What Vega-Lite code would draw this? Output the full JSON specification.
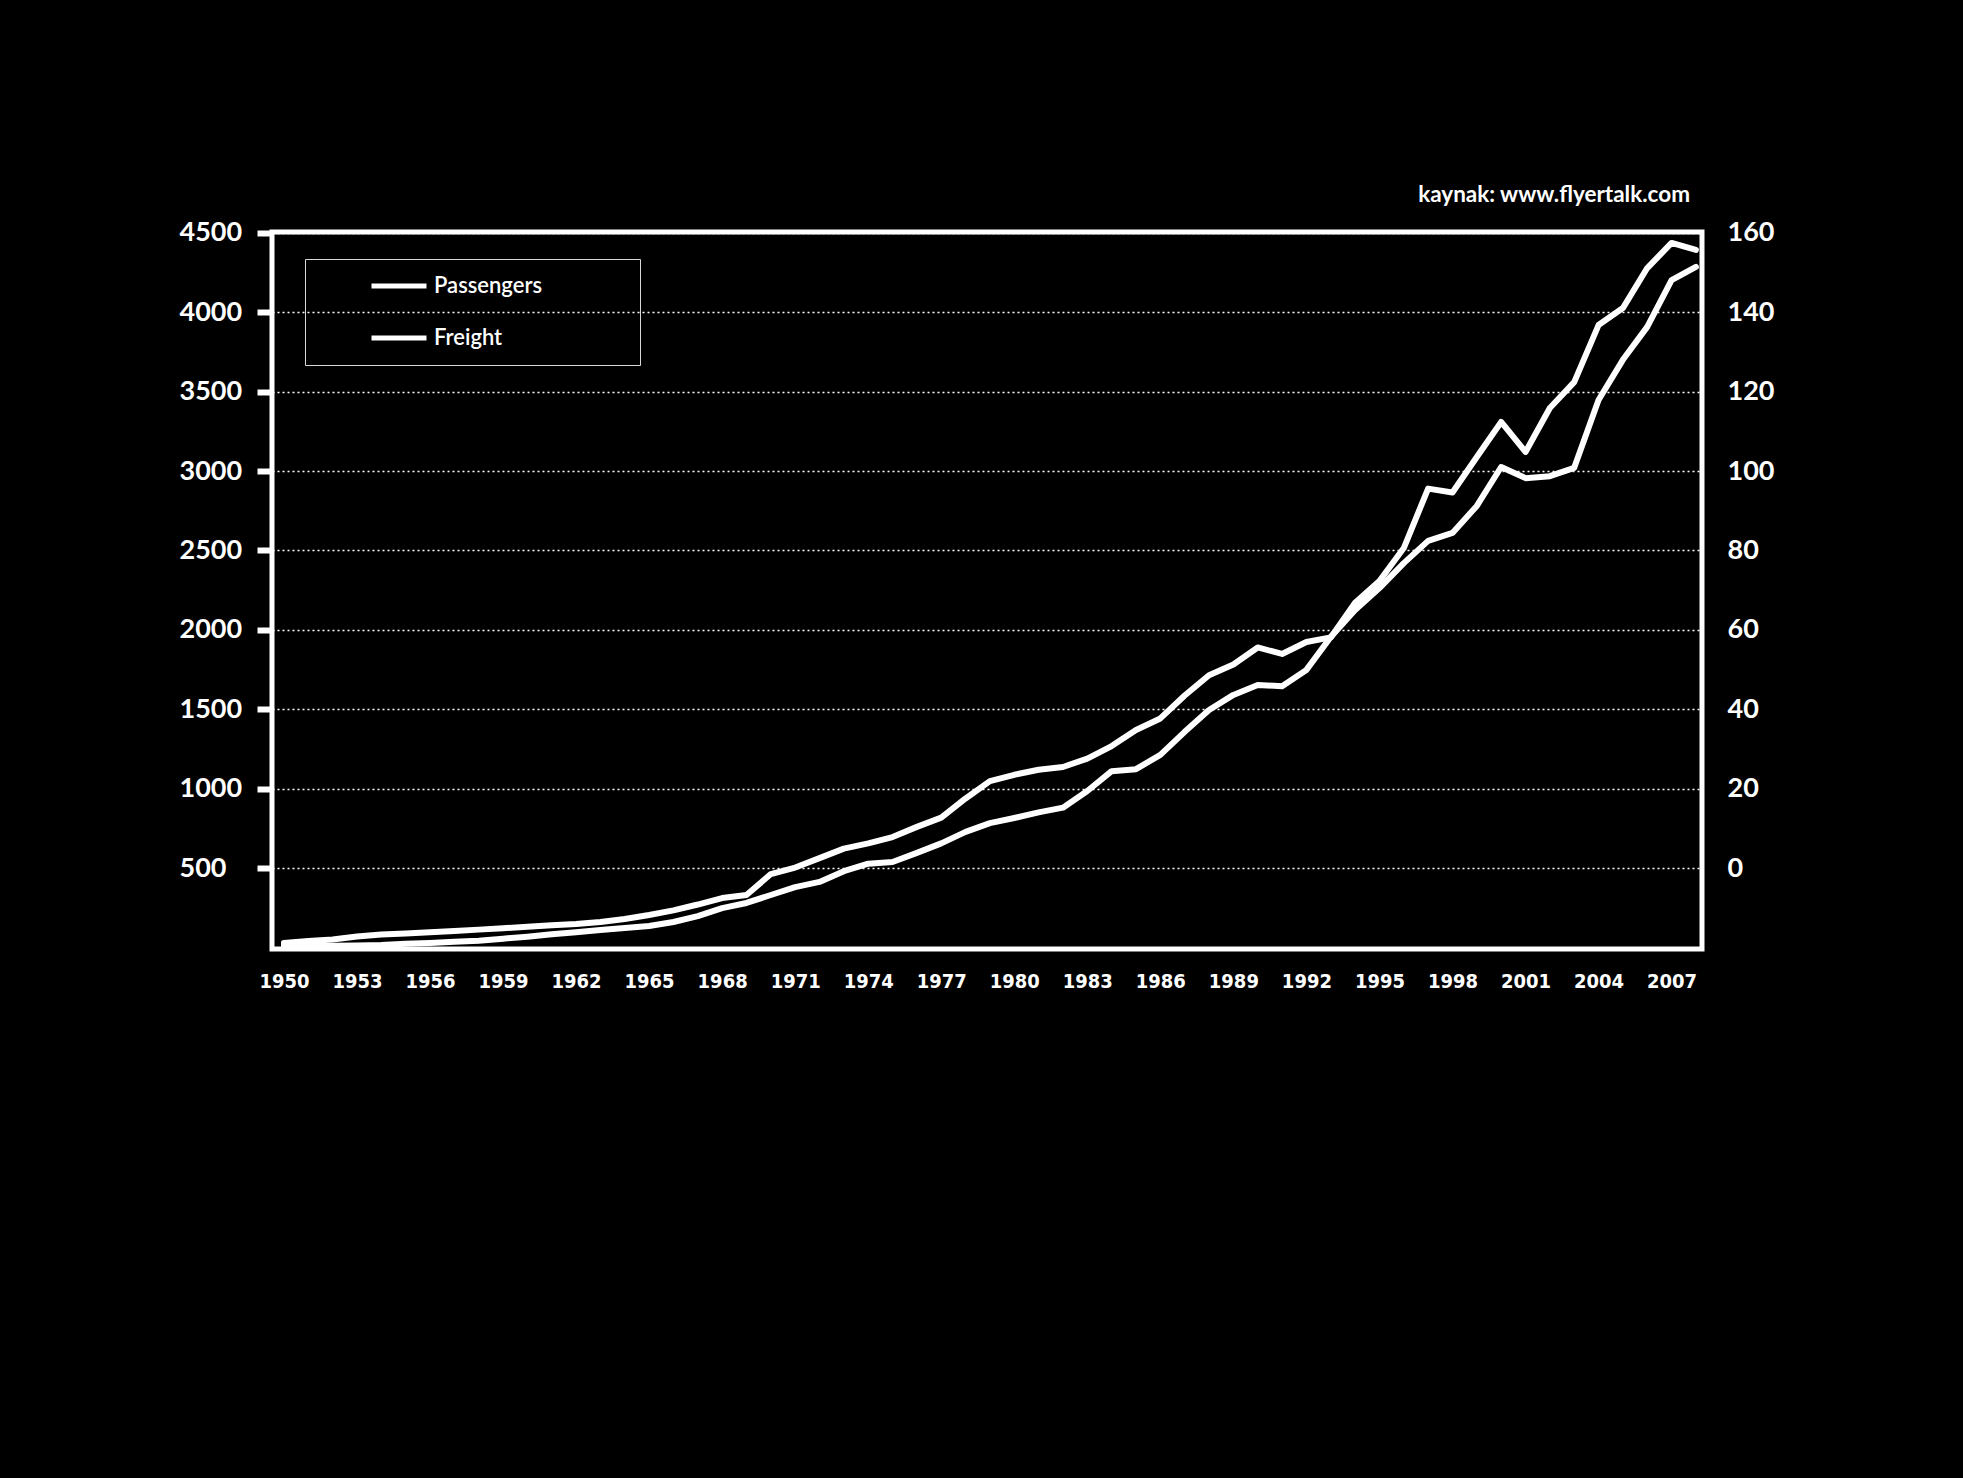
{
  "$schema": "https://vega.github.io/schema/vega-lite/v6.json",
  "width": 1430,
  "height": 717,
  "autosize": {"type": "none"},
  "padding": {"left": 272, "top": 232, "right": 261, "bottom": 529},
  "background": "black",
  "config": {
    "view": {"stroke": "white", "strokeWidth": 5},
    "font": "Lato"
  },
  "title": {
    "text": "kaynak: www.flyertalk.com",
    "anchor": "end",
    "orient": "top",
    "frame": "group",
    "baseline": "bottom",
    "offset": -11,
    "dx": -12,
    "color": "white",
    "font": "Lato",
    "fontSize": 22.5,
    "fontWeight": "bold"
  },
  "data": {
    "values": [
      {"year": 1950, "passengers": 28, "freight": -19.6},
      {"year": 1951, "passengers": 40, "freight": -19.6},
      {"year": 1952, "passengers": 50, "freight": -19.6},
      {"year": 1953, "passengers": 69, "freight": -19.5},
      {"year": 1954, "passengers": 81, "freight": -19.4},
      {"year": 1955, "passengers": 88, "freight": -19.1},
      {"year": 1956, "passengers": 96, "freight": -18.9},
      {"year": 1957, "passengers": 103, "freight": -18.6},
      {"year": 1958, "passengers": 112, "freight": -18.3},
      {"year": 1959, "passengers": 121, "freight": -17.8},
      {"year": 1960, "passengers": 130, "freight": -17.3},
      {"year": 1961, "passengers": 139, "freight": -16.7},
      {"year": 1962, "passengers": 147, "freight": -16.2},
      {"year": 1963, "passengers": 160, "freight": -15.6},
      {"year": 1964, "passengers": 179, "freight": -15.1},
      {"year": 1965, "passengers": 204, "freight": -14.6},
      {"year": 1966, "passengers": 233, "freight": -13.6},
      {"year": 1967, "passengers": 270, "freight": -12.1},
      {"year": 1968, "passengers": 311, "freight": -10.1},
      {"year": 1969, "passengers": 330, "freight": -8.8},
      {"year": 1970, "passengers": 462, "freight": -6.8},
      {"year": 1971, "passengers": 503, "freight": -4.8},
      {"year": 1972, "passengers": 562, "freight": -3.5},
      {"year": 1973, "passengers": 622, "freight": -0.8},
      {"year": 1974, "passengers": 655, "freight": 1.1},
      {"year": 1975, "passengers": 695, "freight": 1.5},
      {"year": 1976, "passengers": 759, "freight": 3.8},
      {"year": 1977, "passengers": 817, "freight": 6.2},
      {"year": 1978, "passengers": 938, "freight": 9.1},
      {"year": 1979, "passengers": 1047, "freight": 11.3},
      {"year": 1980, "passengers": 1087, "freight": 12.6},
      {"year": 1981, "passengers": 1119, "freight": 14.0},
      {"year": 1982, "passengers": 1136, "freight": 15.2},
      {"year": 1983, "passengers": 1189, "freight": 19.4},
      {"year": 1984, "passengers": 1268, "freight": 24.4},
      {"year": 1985, "passengers": 1369, "freight": 24.9},
      {"year": 1986, "passengers": 1442, "freight": 28.5},
      {"year": 1987, "passengers": 1586, "freight": 34.3},
      {"year": 1988, "passengers": 1714, "freight": 39.8},
      {"year": 1989, "passengers": 1782, "freight": 43.6},
      {"year": 1990, "passengers": 1889, "freight": 46.1},
      {"year": 1991, "passengers": 1848, "freight": 45.8},
      {"year": 1992, "passengers": 1923, "freight": 49.9},
      {"year": 1993, "passengers": 1952, "freight": 58.2},
      {"year": 1994, "passengers": 2170, "freight": 65.0},
      {"year": 1995, "passengers": 2307, "freight": 70.5},
      {"year": 1996, "passengers": 2515, "freight": 76.8},
      {"year": 1997, "passengers": 2889, "freight": 82.4},
      {"year": 1998, "passengers": 2865, "freight": 84.4},
      {"year": 1999, "passengers": 3088, "freight": 91.2},
      {"year": 2000, "passengers": 3309, "freight": 101.0},
      {"year": 2001, "passengers": 3120, "freight": 98.2},
      {"year": 2002, "passengers": 3397, "freight": 98.7},
      {"year": 2003, "passengers": 3560, "freight": 100.8},
      {"year": 2004, "passengers": 3919, "freight": 117.9},
      {"year": 2005, "passengers": 4026, "freight": 128.0},
      {"year": 2006, "passengers": 4278, "freight": 136.3},
      {"year": 2007, "passengers": 4436, "freight": 148.1},
      {"year": 2008, "passengers": 4392, "freight": 151.4}
    ]
  },
  "encoding": {
    "x": {
      "field": "year",
      "type": "quantitative",
      "scale": {"domain": [1949.51, 2008.25], "nice": false, "zero": false},
      "axis": {
        "orient": "bottom",
        "values": [1950, 1953, 1956, 1959, 1962, 1965, 1968, 1971, 1974, 1977, 1980, 1983, 1986, 1989, 1992, 1995, 1998, 2001, 2004, 2007],
        "format": "d",
        "grid": false,
        "domain": false,
        "ticks": false,
        "labelColor": "white",
        "labelFont": "DejaVu Sans Condensed, DejaVu Sans",
        "labelFontSize": 20,
        "labelFontWeight": "bold",
        "labelPadding": 22,
        "labelOverlap": false,
        "labelFlush": false,
        "title": null
      }
    }
  },
  "layer": [
    {
      "mark": {"type": "line", "strokeWidth": 6, "strokeJoin": "round", "strokeCap": "round"},
      "encoding": {
        "y": {
          "field": "passengers",
          "type": "quantitative",
          "scale": {"domain": [-10, 4505], "nice": false, "zero": false},
          "axis": {
            "orient": "left",
            "values": [500, 1000, 1500, 2000, 2500, 3000, 3500, 4000, 4500],
            "format": "d",
            "grid": true,
            "gridColor": "white",
            "gridDash": [2, 3],
            "gridWidth": 1.5,
            "domain": false,
            "ticks": true,
            "tickColor": "white",
            "tickSize": 15,
            "tickWidth": 6,
            "labelColor": "white",
            "labelFont": "Lato",
            "labelFontSize": 27,
            "labelFontWeight": "bold",
            "labelAlign": "left",
            "labelPadding": 78,
            "labelOverlap": false,
            "title": null
          }
        },
        "color": {
          "datum": "Passengers",
          "type": "nominal",
          "scale": {"domain": ["Passengers", "Freight"], "range": ["white", "white"]},
          "legend": {
            "orient": "none",
            "legendX": 33,
            "legendY": 27,
            "title": null,
            "strokeColor": "#d8d8d8",
            "padding": 15,
            "clipHeight": 24,
            "symbolType": "stroke",
            "symbolSize": 3025,
            "symbolStrokeWidth": 5,
            "symbolStrokeColor": "white",
            "symbolOffset": 49,
            "labelOffset": 5,
            "labelColor": "white",
            "labelFont": "Lato",
            "labelFontSize": 22,
            "labelFontWeight": 600,
            "labelLimit": 0,
            "rowPadding": 28,
            "labelExpr": "datum.label + '\u00a0\u00a0\u00a0\u00a0\u00a0\u00a0\u00a0\u00a0\u00a0\u00a0\u00a0\u00a0\u00a0\u00a0\u00a0\u200b'"
          }
        }
      }
    },
    {
      "mark": {"type": "line", "strokeWidth": 6, "strokeJoin": "round", "strokeCap": "round"},
      "encoding": {
        "y": {
          "field": "freight",
          "type": "quantitative",
          "scale": {"domain": [-20.4, 160.2], "nice": false, "zero": false},
          "axis": {
            "orient": "right",
            "values": [0, 20, 40, 60, 80, 100, 120, 140, 160],
            "grid": false,
            "domain": false,
            "ticks": false,
            "labelColor": "white",
            "labelFont": "Lato",
            "labelFontSize": 27,
            "labelFontWeight": "bold",
            "labelPadding": 25,
            "labelOverlap": false,
            "title": null
          }
        },
        "color": {"datum": "Freight", "type": "nominal"}
      }
    }
  ],
  "resolve": {"scale": {"y": "independent"}}
}
